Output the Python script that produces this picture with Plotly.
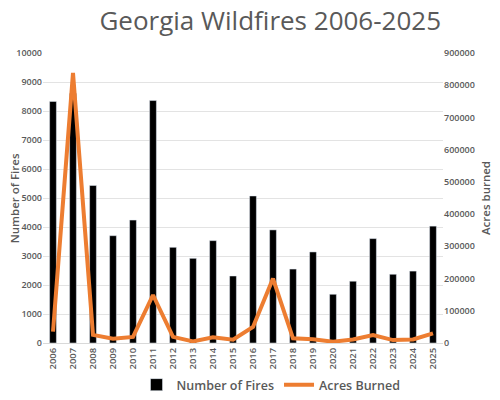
import plotly.graph_objects as go

years = [str(y) for y in range(2006, 2026)]
fires = [8330, 8600, 5430, 3700, 4240, 8360, 3300, 2920, 3530, 2310,
         5070, 3900, 2550, 3140, 1680, 2130, 3600, 2370, 2480, 4030]
acres = [35000, 838000, 25000, 13000, 19000, 149000, 19000, 5000, 18000, 10000,
         50000, 200000, 14500, 11500, 4000, 11000, 25000, 9000, 11000, 30000]

grey = '#595959'
fnt = 'Open Sans, Liberation Sans, sans-serif'

fig = go.Figure()
fig.add_trace(go.Bar(
    x=years, y=fires, name='Number of Fires',
    marker=dict(color='black'),
    yaxis='y'
))
fig.add_trace(go.Scatter(
    x=years, y=acres, name='Acres Burned',
    mode='lines', line=dict(color='#ED7D31', width=4),
    yaxis='y2'
))

# axis titles as annotations so they stay inside the page
fig.add_annotation(text='Number of Fires', xref='paper', yref='paper',
                   x=-0.072, y=0.5, xanchor='center', yanchor='middle',
                   textangle=-90, showarrow=False,
                   font=dict(size=11.5, color=grey, weight=600))
fig.add_annotation(text='Acres burned', xref='paper', yref='paper',
                   x=1.105, y=0.5, xanchor='center', yanchor='middle',
                   textangle=-90, showarrow=False,
                   font=dict(size=11.5, color=grey, weight=600))

# the page body has an 8px margin, so the figure is 8px smaller than the window
fig.update_layout(
    width=492, height=392,
    margin=dict(l=35, r=57, t=45, b=57),
    plot_bgcolor='white', paper_bgcolor='white',
    font=dict(family=fnt, color=grey),
    title=dict(text='Georgia Wildfires 2006-2025', x=0.533, y=0.99,
               xanchor='center', yanchor='top',
               font=dict(size=26, color=grey, family=fnt)),
    bargap=0.66,
    showlegend=True,
    legend=dict(orientation='h', x=0.57, xanchor='center',
                yref='container', y=0.0, yanchor='bottom',
                font=dict(size=12.5, color=grey, weight=600), itemwidth=30),
    xaxis=dict(type='category', tickangle=-90,
               tickfont=dict(size=9.5, color=grey, weight=600),
               showgrid=False, showline=True, linecolor='#d9d9d9', ticks='',
               automargin=False),
    yaxis=dict(range=[0, 10000], dtick=1000, tickformat='d', showgrid=True,
               gridcolor='#e3e3e3', tickfont=dict(size=9, color=grey, weight=600),
               zeroline=False, automargin=False),
    yaxis2=dict(range=[0, 900000], dtick=100000, tickformat='d', overlaying='y',
                side='right', showgrid=False, zeroline=False,
                tickfont=dict(size=9, color=grey, weight=600), automargin=False),
)

fig.write_html("out.html")
